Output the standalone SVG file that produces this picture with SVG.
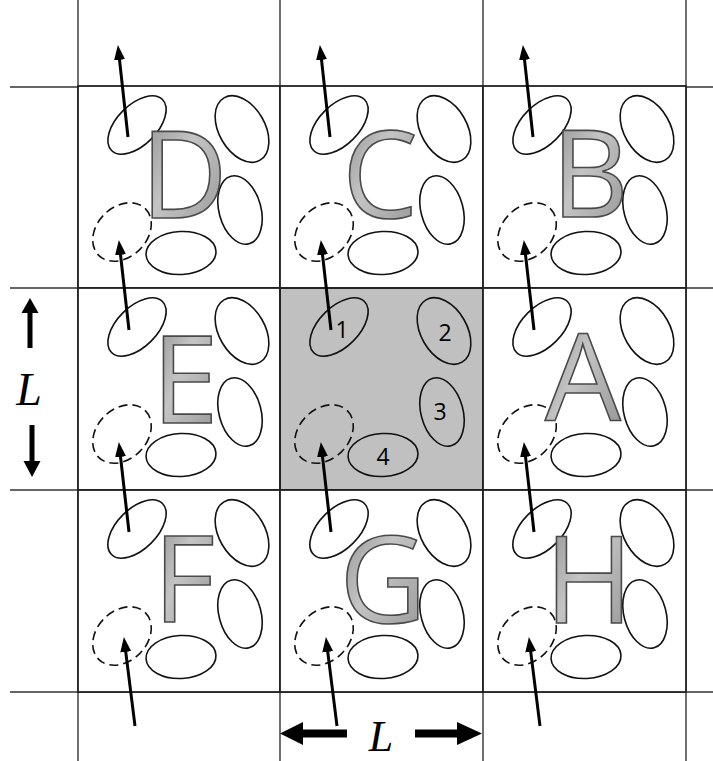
<svg xmlns="http://www.w3.org/2000/svg" width="713" height="761" viewBox="0 0 713 761">
<style>
.bg{fill:#ffffff}
.cell{fill:#ffffff;stroke:#222;stroke-width:1.8}
.center{fill:#c0c0c0;stroke:#222;stroke-width:2}
.ext{stroke:#333;stroke-width:1.4;fill:none}
.el{fill:none;stroke:#111;stroke-width:1.6}
.dash{fill:none;stroke:#111;stroke-width:1.6;stroke-dasharray:9 5}
.let{font-family:"Open Sans","Liberation Sans",sans-serif;font-size:120px;text-anchor:middle;fill:url(#bevel);stroke:#4a4a4a;stroke-width:1.6}
.num{font-family:"Open Sans","Liberation Sans",sans-serif;font-size:23px;text-anchor:middle;fill:#000}
.arr{stroke:#000;stroke-width:3;fill:none;marker-end:url(#ah)}
.big{font-family:"Liberation Serif",serif;font-style:italic;font-size:46px;text-anchor:middle;fill:#000}
.bigb{font-family:"Liberation Serif",serif;font-style:italic;font-size:44px;text-anchor:middle;fill:#000}
</style>
<defs>
<marker id="ah" markerUnits="userSpaceOnUse" markerWidth="15" markerHeight="11" refX="2" refY="5.5" orient="auto">
<path d="M0,0 L15,5.5 L0,11 z" fill="#000"/>
</marker>
<linearGradient id="bevel" x1="0" y1="0" x2="1" y2="1">
<stop offset="0" stop-color="#858585"/>
<stop offset="0.45" stop-color="#c4c4c4"/>
<stop offset="1" stop-color="#909090"/>
</linearGradient>
</defs>
<rect class="bg" x="0" y="0" width="713" height="761"/>
<g id="grid-extensions">
<line class="ext" x1="78" y1="0" x2="78" y2="761"/>
<line class="ext" x1="280" y1="0" x2="280" y2="761"/>
<line class="ext" x1="483" y1="0" x2="483" y2="761"/>
<line class="ext" x1="686" y1="0" x2="686" y2="761"/>
<line class="ext" x1="10" y1="87" x2="713" y2="87"/>
<line class="ext" x1="10" y1="288" x2="713" y2="288"/>
<line class="ext" x1="10" y1="490" x2="713" y2="490"/>
<line class="ext" x1="10" y1="692" x2="713" y2="692"/>
</g>

<g id="cell-D" transform="translate(78,86)">
<rect class="cell" x="0" y="0" width="202" height="202"/>
<ellipse class="el" cx="59" cy="39" rx="36" ry="20" transform="rotate(-45 59 39)"/>
<ellipse class="el" cx="164" cy="43" rx="36" ry="23" transform="rotate(60 164 43)"/>
<ellipse class="el" cx="162" cy="124" rx="35" ry="21" transform="rotate(75 162 124)"/>
<ellipse class="el" cx="103" cy="167" rx="35" ry="21.5" transform="rotate(-3 103 167)"/>
<ellipse class="dash" cx="44" cy="146" rx="33" ry="25" transform="rotate(-45 44 146)"/>
<text class="let" x="106" y="132">D</text>
</g>
<g id="cell-C" transform="translate(280,86)">
<rect class="cell" x="0" y="0" width="203" height="202"/>
<ellipse class="el" cx="59" cy="39" rx="36" ry="20" transform="rotate(-45 59 39)"/>
<ellipse class="el" cx="164" cy="43" rx="36" ry="23" transform="rotate(60 164 43)"/>
<ellipse class="el" cx="162" cy="124" rx="35" ry="21" transform="rotate(75 162 124)"/>
<ellipse class="el" cx="103" cy="167" rx="35" ry="21.5" transform="rotate(-3 103 167)"/>
<ellipse class="dash" cx="44" cy="146" rx="33" ry="25" transform="rotate(-45 44 146)"/>
<text class="let" x="100" y="132">C</text>
</g>
<g id="cell-B" transform="translate(483,86)">
<rect class="cell" x="0" y="0" width="203" height="202"/>
<ellipse class="el" cx="59" cy="39" rx="36" ry="20" transform="rotate(-45 59 39)"/>
<ellipse class="el" cx="164" cy="43" rx="36" ry="23" transform="rotate(60 164 43)"/>
<ellipse class="el" cx="162" cy="124" rx="35" ry="21" transform="rotate(75 162 124)"/>
<ellipse class="el" cx="103" cy="167" rx="35" ry="21.5" transform="rotate(-3 103 167)"/>
<ellipse class="dash" cx="44" cy="146" rx="33" ry="25" transform="rotate(-45 44 146)"/>
<text class="let" x="107" y="131">B</text>
</g>
<g id="cell-E" transform="translate(78,288)">
<rect class="cell" x="0" y="0" width="202" height="202"/>
<ellipse class="el" cx="59" cy="39" rx="36" ry="20" transform="rotate(-45 59 39)"/>
<ellipse class="el" cx="164" cy="43" rx="36" ry="23" transform="rotate(60 164 43)"/>
<ellipse class="el" cx="162" cy="124" rx="35" ry="21" transform="rotate(75 162 124)"/>
<ellipse class="el" cx="103" cy="167" rx="35" ry="21.5" transform="rotate(-3 103 167)"/>
<ellipse class="dash" cx="44" cy="146" rx="33" ry="25" transform="rotate(-45 44 146)"/>
<text class="let" x="107" y="135">E</text>
</g>
<g id="cell-center" transform="translate(280,288)">
<rect class="center" x="0" y="0" width="203" height="202"/>
<ellipse class="el" cx="59" cy="39" rx="36" ry="20" transform="rotate(-45 59 39)"/>
<ellipse class="el" cx="164" cy="43" rx="36" ry="23" transform="rotate(60 164 43)"/>
<ellipse class="el" cx="162" cy="124" rx="35" ry="21" transform="rotate(75 162 124)"/>
<ellipse class="el" cx="103" cy="167" rx="35" ry="21.5" transform="rotate(-3 103 167)"/>
<ellipse class="dash" cx="44" cy="146" rx="33" ry="25" transform="rotate(-45 44 146)"/>
<text class="num" x="62" y="50">1</text>
<text class="num" x="165" y="53">2</text>
<text class="num" x="160" y="132">3</text>
<text class="num" x="103" y="177">4</text>
</g>
<g id="cell-A" transform="translate(483,288)">
<rect class="cell" x="0" y="0" width="203" height="202"/>
<ellipse class="el" cx="59" cy="39" rx="36" ry="20" transform="rotate(-45 59 39)"/>
<ellipse class="el" cx="164" cy="43" rx="36" ry="23" transform="rotate(60 164 43)"/>
<ellipse class="el" cx="162" cy="124" rx="35" ry="21" transform="rotate(75 162 124)"/>
<ellipse class="el" cx="103" cy="167" rx="35" ry="21.5" transform="rotate(-3 103 167)"/>
<ellipse class="dash" cx="44" cy="146" rx="33" ry="25" transform="rotate(-45 44 146)"/>
<text class="let" x="100" y="132">A</text>
</g>
<g id="cell-F" transform="translate(78,490)">
<rect class="cell" x="0" y="0" width="202" height="202"/>
<ellipse class="el" cx="59" cy="39" rx="36" ry="20" transform="rotate(-45 59 39)"/>
<ellipse class="el" cx="164" cy="43" rx="36" ry="23" transform="rotate(60 164 43)"/>
<ellipse class="el" cx="162" cy="124" rx="35" ry="21" transform="rotate(75 162 124)"/>
<ellipse class="el" cx="103" cy="167" rx="35" ry="21.5" transform="rotate(-3 103 167)"/>
<ellipse class="dash" cx="44" cy="146" rx="33" ry="25" transform="rotate(-45 44 146)"/>
<text class="let" x="106" y="132">F</text>
</g>
<g id="cell-G" transform="translate(280,490)">
<rect class="cell" x="0" y="0" width="203" height="202"/>
<ellipse class="el" cx="59" cy="39" rx="36" ry="20" transform="rotate(-45 59 39)"/>
<ellipse class="el" cx="164" cy="43" rx="36" ry="23" transform="rotate(60 164 43)"/>
<ellipse class="el" cx="162" cy="124" rx="35" ry="21" transform="rotate(75 162 124)"/>
<ellipse class="el" cx="103" cy="167" rx="35" ry="21.5" transform="rotate(-3 103 167)"/>
<ellipse class="dash" cx="44" cy="146" rx="33" ry="25" transform="rotate(-45 44 146)"/>
<text class="let" x="103" y="133">G</text>
</g>
<g id="cell-H" transform="translate(483,490)">
<rect class="cell" x="0" y="0" width="203" height="202"/>
<ellipse class="el" cx="59" cy="39" rx="36" ry="20" transform="rotate(-45 59 39)"/>
<ellipse class="el" cx="164" cy="43" rx="36" ry="23" transform="rotate(60 164 43)"/>
<ellipse class="el" cx="162" cy="124" rx="35" ry="21" transform="rotate(75 162 124)"/>
<ellipse class="el" cx="103" cy="167" rx="35" ry="21.5" transform="rotate(-3 103 167)"/>
<ellipse class="dash" cx="44" cy="146" rx="33" ry="25" transform="rotate(-45 44 146)"/>
<text class="let" x="106" y="133">H</text>
</g>

<g id="connectors">
<line class="arr" x1="128" y1="137" x2="119.3" y2="57.9"/>
<line class="arr" x1="330" y1="137" x2="321.3" y2="57.9"/>
<line class="arr" x1="533" y1="137" x2="524.3" y2="57.9"/>
<line class="arr" x1="129" y1="330" x2="120.3" y2="252.9"/>
<line class="arr" x1="331" y1="330" x2="322.3" y2="252.9"/>
<line class="arr" x1="534" y1="330" x2="525.3" y2="252.9"/>
<line class="arr" x1="129" y1="532" x2="120.3" y2="454.9"/>
<line class="arr" x1="331" y1="532" x2="322.3" y2="454.9"/>
<line class="arr" x1="534" y1="532" x2="525.3" y2="454.9"/>
<line class="arr" x1="135" y1="726" x2="125.5" y2="649.9"/>
<line class="arr" x1="337" y1="726" x2="327.5" y2="649.9"/>
<line class="arr" x1="540" y1="726" x2="530.5" y2="649.9"/>
</g>

<g id="dim-vertical">
<rect x="27.5" y="312" width="5" height="36" fill="#000"/>
<path d="M21.5,313 L30,298 L38.5,313 z" fill="#000"/>
<rect x="29.5" y="425" width="5" height="37" fill="#000"/>
<path d="M23.5,461 L32,477 L40.5,461 z" fill="#000"/>
<text class="big" x="29" y="405">L</text>
</g>
<g id="dim-horizontal">
<rect x="302" y="729.5" width="45" height="8" fill="#000"/>
<path d="M303,722 L280,733.5 L303,745 z" fill="#000"/>
<rect x="415" y="729.5" width="43" height="8" fill="#000"/>
<path d="M457,722 L482,733.5 L457,745 z" fill="#000"/>
<text class="bigb" x="381" y="751">L</text>
</g>
</svg>
